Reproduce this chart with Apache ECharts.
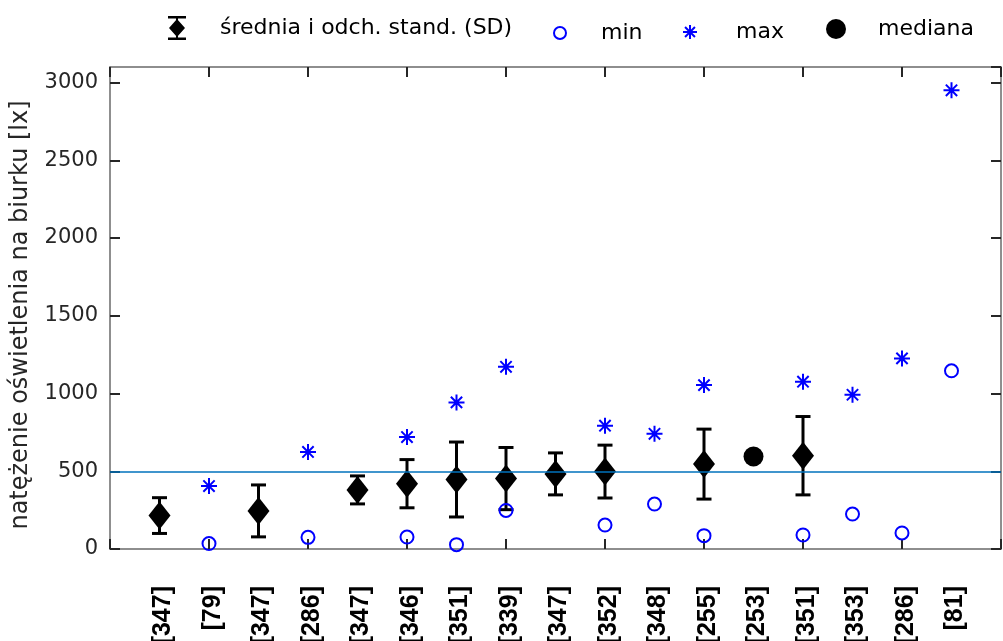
<!DOCTYPE html>
<html>
<head>
<meta charset="utf-8">
<script src="https://cdn.jsdelivr.net/npm/echarts@6/dist/echarts.min.js"></script>
<style>html,body{margin:0;padding:0;background:#fff}#c{width:1003px;height:641px}</style>
</head>
<body>
<div id="c"></div>
<script>
// ---- data ----
const categories = ['[347]','[79]','[347]','[286]','[347]','[346]','[351]','[339]','[347]','[352]','[348]','[255]','[253]','[351]','[353]','[286]','[81]'];
const means   = [215, null, 245, null, 380, 420, 447, 453, 483, 498, null, 546, null, 600, null, null, null];
const sds     = [115, null, 167, null,  90, 155, 241, 200, 135, 170, null, 225, null, 252, null, null, null];
const mins    = [null, 35, null, 75, null, 77, 28, 248, null, 154, 289, 86, null, 90, 225, 103, 1146];
const maxs    = [null, 405, null, 624, null, 720, 943, 1172, null, 793, 741, 1054, null, 1076, 992, 1226, 2950];
const medians = [null, null, null, null, null, null, null, null, null, null, null, null, 595, null, null, null, null];
const norm = 500;
const yTicks = [0, 500, 1000, 1500, 2000, 2500, 3000];

const NAME_MEAN = 'średnia i odch. stand. (SD)';
const NAME_MIN = 'min', NAME_MAX = 'max', NAME_MED = 'mediana';

const toPts = arr => arr.map((v, i) => v == null ? null : [i + 1, v]).filter(d => d);
const errData = means.map((m, i) => m == null ? null : [i + 1, m - sds[i], m + sds[i]]).filter(d => d);

const FONT = 'DejaVu Sans';
const AX = '#262626';
const LINE = '#6a6a6a';
const starPath = 'path://M0,-10 L0,10 M-10,0 L10,0 M-7.07,-7.07 L7.07,7.07 M-7.07,7.07 L7.07,-7.07';
const errIcon = 'path://M0,0 L18,0 L18,2.5 L0,2.5 Z M0,21.5 L18,21.5 L18,24 L0,24 Z M8,2.5 L10,2.5 L10,21.5 L8,21.5 Z M9,3 L17,12 L9,21 L1,12 Z';

const chart = echarts.init(document.getElementById('c'), null, {renderer: 'canvas'});
const lt = pad => ({fontFamily: FONT, fontSize: 22, color: '#000', padding: [0, 0, 0, pad]});
const axLine = show => ({show: show, onZero: false, lineStyle: {color: LINE, width: 1.5}});
const inTick = {show: true, inside: true, length: 10, lineStyle: {color: AX, width: 2}};
const option = {
  animation: false,
  grid: {left: 110, right: 2, top: 67, bottom: 92, containLabel: false, outerBoundsMode: 'none'},
  legend: [
    {data: [{name: NAME_MEAN, icon: errIcon, itemStyle: {color: '#000', opacity: 1}}], left: 168, top: 16, padding: 0,
     itemWidth: 18, itemHeight: 24, textStyle: lt(29), selectedMode: false},
    {data: [{name: NAME_MIN, icon: 'circle', itemStyle: {color: 'transparent', borderColor: '#0000ff', borderWidth: 2, opacity: 1}}],
     left: 553, top: 22, padding: 0, itemWidth: 12, itemHeight: 12, textStyle: lt(30), selectedMode: false},
    {data: [{name: NAME_MAX, icon: starPath, itemStyle: {color: 'transparent', borderColor: '#0000ff', borderWidth: 2, opacity: 1}}],
     left: 682, top: 21, padding: 0, itemWidth: 14, itemHeight: 14, textStyle: lt(34), selectedMode: false},
    {data: [{name: NAME_MED, icon: 'circle', itemStyle: {color: '#000', opacity: 1}}],
     left: 826, top: 18, padding: 0, itemWidth: 20, itemHeight: 20, textStyle: lt(27), selectedMode: false}
  ],
  xAxis: [
    {type: 'value', min: 0, max: 18, interval: 1, position: 'bottom',
     axisLine: axLine(true), axisTick: {show: false}, splitLine: {show: false},
     axisLabel: {rotate: 90, margin: 37, fontFamily: 'Liberation Sans', fontWeight: 'bold', fontSize: 25, color: '#000',
       verticalAlign: 'top', lineHeight: 8,
       formatter: v => categories[v - 1] || ''}},
    {type: 'value', min: 0, max: 18, interval: 2, position: 'bottom',
     axisLine: axLine(false), axisTick: inTick, axisLabel: {show: false}, splitLine: {show: false}},
    {type: 'value', min: 0, max: 18, interval: 2, position: 'top',
     axisLine: axLine(true), axisTick: inTick, axisLabel: {show: false}, splitLine: {show: false}}
  ],
  yAxis: [
    {type: 'value', min: 0, max: 3100, interval: 500, position: 'left',
     name: 'natężenie oświetlenia na biurku [lx]', nameLocation: 'middle', nameGap: 77, nameRotate: 90,
     nameTextStyle: {fontFamily: FONT, fontSize: 24, color: AX, padding: [0, 14, 0, 0]},
     axisLine: axLine(true), axisTick: inTick,
     axisLabel: {margin: 12, fontFamily: FONT, fontSize: 21, color: AX, showMaxLabel: false,
       formatter: v => yTicks.includes(v) ? String(v) : ''},
     splitLine: {show: false}},
    {type: 'value', min: 0, max: 3100, interval: 500, position: 'right',
     axisLine: axLine(true), axisTick: inTick, axisLabel: {show: false}, splitLine: {show: false}}
  ],
  series: [
    {name: NAME_MEAN, type: 'custom', data: errData, z: 2,
     renderItem: (params, api) => {
       const x = api.value(0), lo = api.value(1), hi = api.value(2);
       const t = api.coord([x, hi]), b = api.coord([x, lo]);
       const hw = 7.5, st = {stroke: '#000', lineWidth: 3};
       return {type: 'group', children: [
         {type: 'line', shape: {x1: t[0], y1: t[1], x2: b[0], y2: b[1]}, style: st},
         {type: 'line', shape: {x1: t[0] - hw, y1: t[1], x2: t[0] + hw, y2: t[1]}, style: st},
         {type: 'line', shape: {x1: b[0] - hw, y1: b[1], x2: b[0] + hw, y2: b[1]}, style: st}
       ]};
     }},
    {name: NAME_MEAN, type: 'scatter', data: toPts(means), symbol: 'diamond', symbolSize: [22, 28], z: 3,
     itemStyle: {color: '#000', opacity: 1}},
    {name: NAME_MIN, type: 'scatter', data: toPts(mins), symbol: 'circle', symbolSize: 13, z: 3,
     itemStyle: {color: 'transparent', borderColor: '#0000ff', borderWidth: 2, opacity: 1}},
    {name: NAME_MAX, type: 'scatter', data: toPts(maxs), symbol: starPath, symbolSize: 16, z: 3,
     itemStyle: {color: 'transparent', borderColor: '#0000ff', borderWidth: 2, opacity: 1}},
    {name: NAME_MED, type: 'scatter', data: toPts(medians), symbol: 'circle', symbolSize: 20, z: 3,
     itemStyle: {color: '#000', opacity: 1},
     markLine: {silent: true, symbol: 'none', z: 5, label: {show: false},
       lineStyle: {color: '#0072BD', width: 1.5, type: 'solid'},
       data: [{yAxis: norm}]}}
  ]
};
chart.setOption(option);
</script>
</body>
</html>
